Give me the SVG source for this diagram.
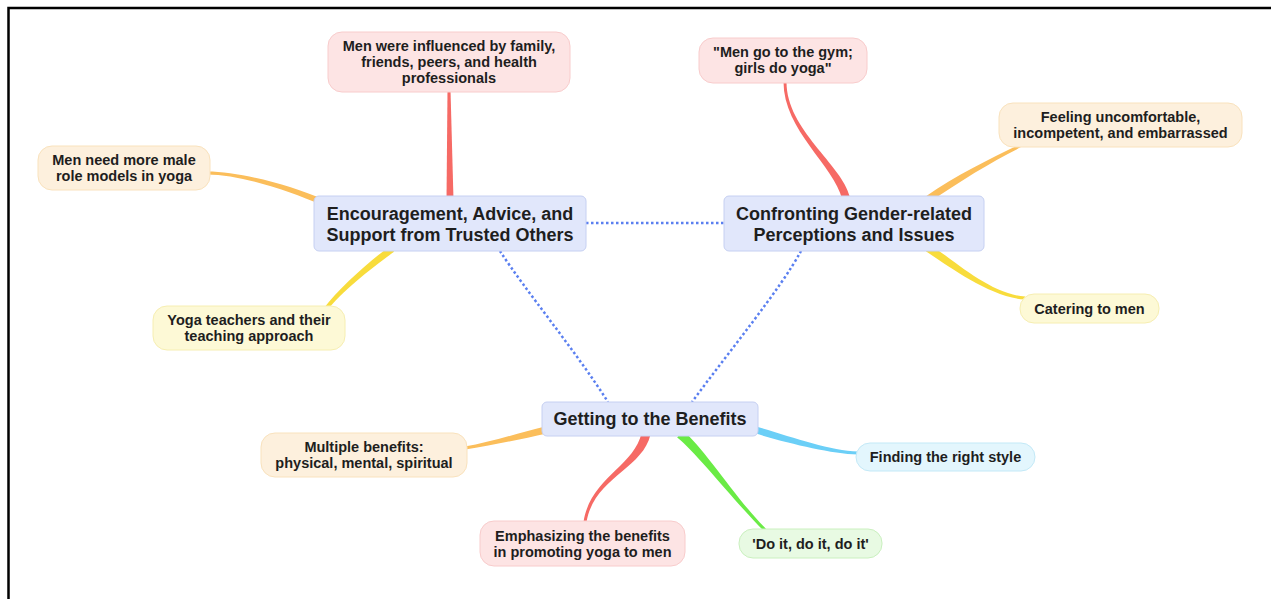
<svg xmlns="http://www.w3.org/2000/svg" width="1271" height="599" viewBox="0 0 1271 599">
<style>
text{font-family:"Liberation Sans",Arial,sans-serif;font-weight:bold;fill:#1e1e1e;text-anchor:middle}
.main rect{fill:#e1e7fb;stroke:#c6d0f2;stroke-width:1}
.main text{font-size:18px}
.leaf text{font-size:14.5px}
.pink rect{fill:#fde4e4;stroke:#f8cccc;stroke-width:1}
.orange rect{fill:#fdf0dd;stroke:#f9e2bd;stroke-width:1}
.yellow rect{fill:#fdf9d6;stroke:#f6eeb2;stroke-width:1}
.green rect{fill:#e8fae3;stroke:#caf0bf;stroke-width:1}
.blue rect{fill:#e3f6fd;stroke:#c3e9f7;stroke-width:1}
.dot{fill:none;stroke:#5a7ff0;stroke-width:2.5;stroke-dasharray:2.5 2.5}
.br-red{fill:#f66a65}.br-orange{fill:#fbbe5b}.br-yellow{fill:#f8dc3c}.br-green{fill:#6aeb45}.br-blue{fill:#6bcff7}
</style>
<rect width="1271" height="599" fill="#ffffff"/>
<path d="M8.5,599 V8 H1271" fill="none" stroke="#000" stroke-width="2.5"/>
<g id="connectors">
<path class="dot" d="M586,223 H724"/>
<path class="dot" d="M500,251 C525,290 575,350 608,402"/>
<path class="dot" d="M801,251 C780,290 730,350 692,402"/>
<path class="br-red" d="M446.5,200 L453.5,200 L450.5,90 L447.5,90 Z"/>
<path class="br-orange" d="M323.2,199.25 C291.2,185.25 240,171.5 207,171.5 L207,174.5 C240,174.5 288.8,190.75 320.8,204.75 Z"/>
<path class="br-yellow" d="M389.94,246.17 C367.94,262.17 338.4,288.8 323.4,308.8 L326.6,311.2 C341.6,291.2 372.06,267.83 394.06,251.83 Z"/>
<path class="br-red" d="M849.89,197.06 C841.89,164.06 786.5,130 786.5,82 L783.5,82 C783.5,130 834.11,165.94 842.11,198.94 Z"/>
<path class="br-orange" d="M930.01,201.87 C960.01,180.87 995.65,159.35 1022.65,146.35 L1021.35,143.65 C994.35,156.65 955.99,175.13 925.99,196.13 Z"/>
<path class="br-yellow" d="M925.85,251.37 C947.85,265.37 989.91,297.5 1024.91,299.5 L1025.09,296.5 C990.09,294.5 952.15,258.63 930.15,244.63 Z"/>
<path class="br-orange" d="M545.21,426.59 C519.21,432.59 489.76,442.52 464.76,446.52 L465.24,449.48 C490.24,445.48 520.79,439.41 546.79,433.41 Z"/>
<path class="br-red" d="M641.62,432.97 C633.62,466.97 590.52,477.76 583.52,521.76 L586.48,522.24 C593.48,478.24 642.38,469.03 650.38,435.03 Z"/>
<path class="br-green" d="M677.19,437.51 C697.19,453.51 733.94,501.06 763.94,531.06 L766.06,528.94 C736.06,498.94 702.81,446.49 682.81,430.49 Z"/>
<path class="br-blue" d="M755.01,433.36 C789.01,443.36 829.95,453.5 857.95,454.5 L858.05,451.5 C830.05,450.5 790.99,436.64 756.99,426.64 Z"/>
</g>
<g id="node-encouragement" class="main">
<rect x="314" y="196" width="272" height="55" rx="5"/>
<text x="450" y="220">Encouragement, Advice, and</text>
<text x="450" y="241">Support from Trusted Others</text>
</g>
<g id="node-confronting" class="main">
<rect x="724" y="196" width="260" height="55" rx="5"/>
<text x="854" y="220">Confronting Gender-related</text>
<text x="854" y="241">Perceptions and Issues</text>
</g>
<g id="node-benefits" class="main">
<rect x="542" y="402" width="216" height="34" rx="5"/>
<text x="650" y="425">Getting to the Benefits</text>
</g>
<g id="leaf-influenced" class="leaf pink">
<rect x="328" y="32" width="242" height="60" rx="14"/>
<text x="449" y="51">Men were influenced by family,</text>
<text x="449" y="67">friends, peers, and health</text>
<text x="449" y="83">professionals</text>
</g>
<g id="leaf-role-models" class="leaf orange">
<rect x="38" y="146" width="172" height="44" rx="14"/>
<text x="124" y="165">Men need more male</text>
<text x="124" y="181">role models in yoga</text>
</g>
<g id="leaf-teachers" class="leaf yellow">
<rect x="153" y="306" width="192" height="44" rx="14"/>
<text x="249" y="325">Yoga teachers and their</text>
<text x="249" y="341">teaching approach</text>
</g>
<g id="leaf-gym" class="leaf pink">
<rect x="699" y="38" width="168" height="45" rx="14"/>
<text x="783" y="57">"Men go to the gym;</text>
<text x="783" y="73">girls do yoga"</text>
</g>
<g id="leaf-feeling" class="leaf orange">
<rect x="999" y="103" width="243" height="44" rx="14"/>
<text x="1120.5" y="122">Feeling uncomfortable,</text>
<text x="1120.5" y="138">incompetent, and embarrassed</text>
</g>
<g id="leaf-catering" class="leaf yellow">
<rect x="1020" y="294" width="139" height="29" rx="14"/>
<text x="1089.5" y="313.5">Catering to men</text>
</g>
<g id="leaf-multiple" class="leaf orange">
<rect x="261" y="433" width="206" height="44" rx="14"/>
<text x="364" y="452">Multiple benefits:</text>
<text x="364" y="468">physical, mental, spiritual</text>
</g>
<g id="leaf-emphasizing" class="leaf pink">
<rect x="480" y="521" width="205" height="45" rx="14"/>
<text x="582.5" y="540.5">Emphasizing the benefits</text>
<text x="582.5" y="556.5">in promoting yoga to men</text>
</g>
<g id="leaf-doit" class="leaf green">
<rect x="739" y="529" width="143" height="29" rx="14"/>
<text x="810.5" y="548.5">'Do it, do it, do it'</text>
</g>
<g id="leaf-style" class="leaf blue">
<rect x="856" y="443" width="179" height="28" rx="14"/>
<text x="945.5" y="462">Finding the right style</text>
</g>
</svg>
